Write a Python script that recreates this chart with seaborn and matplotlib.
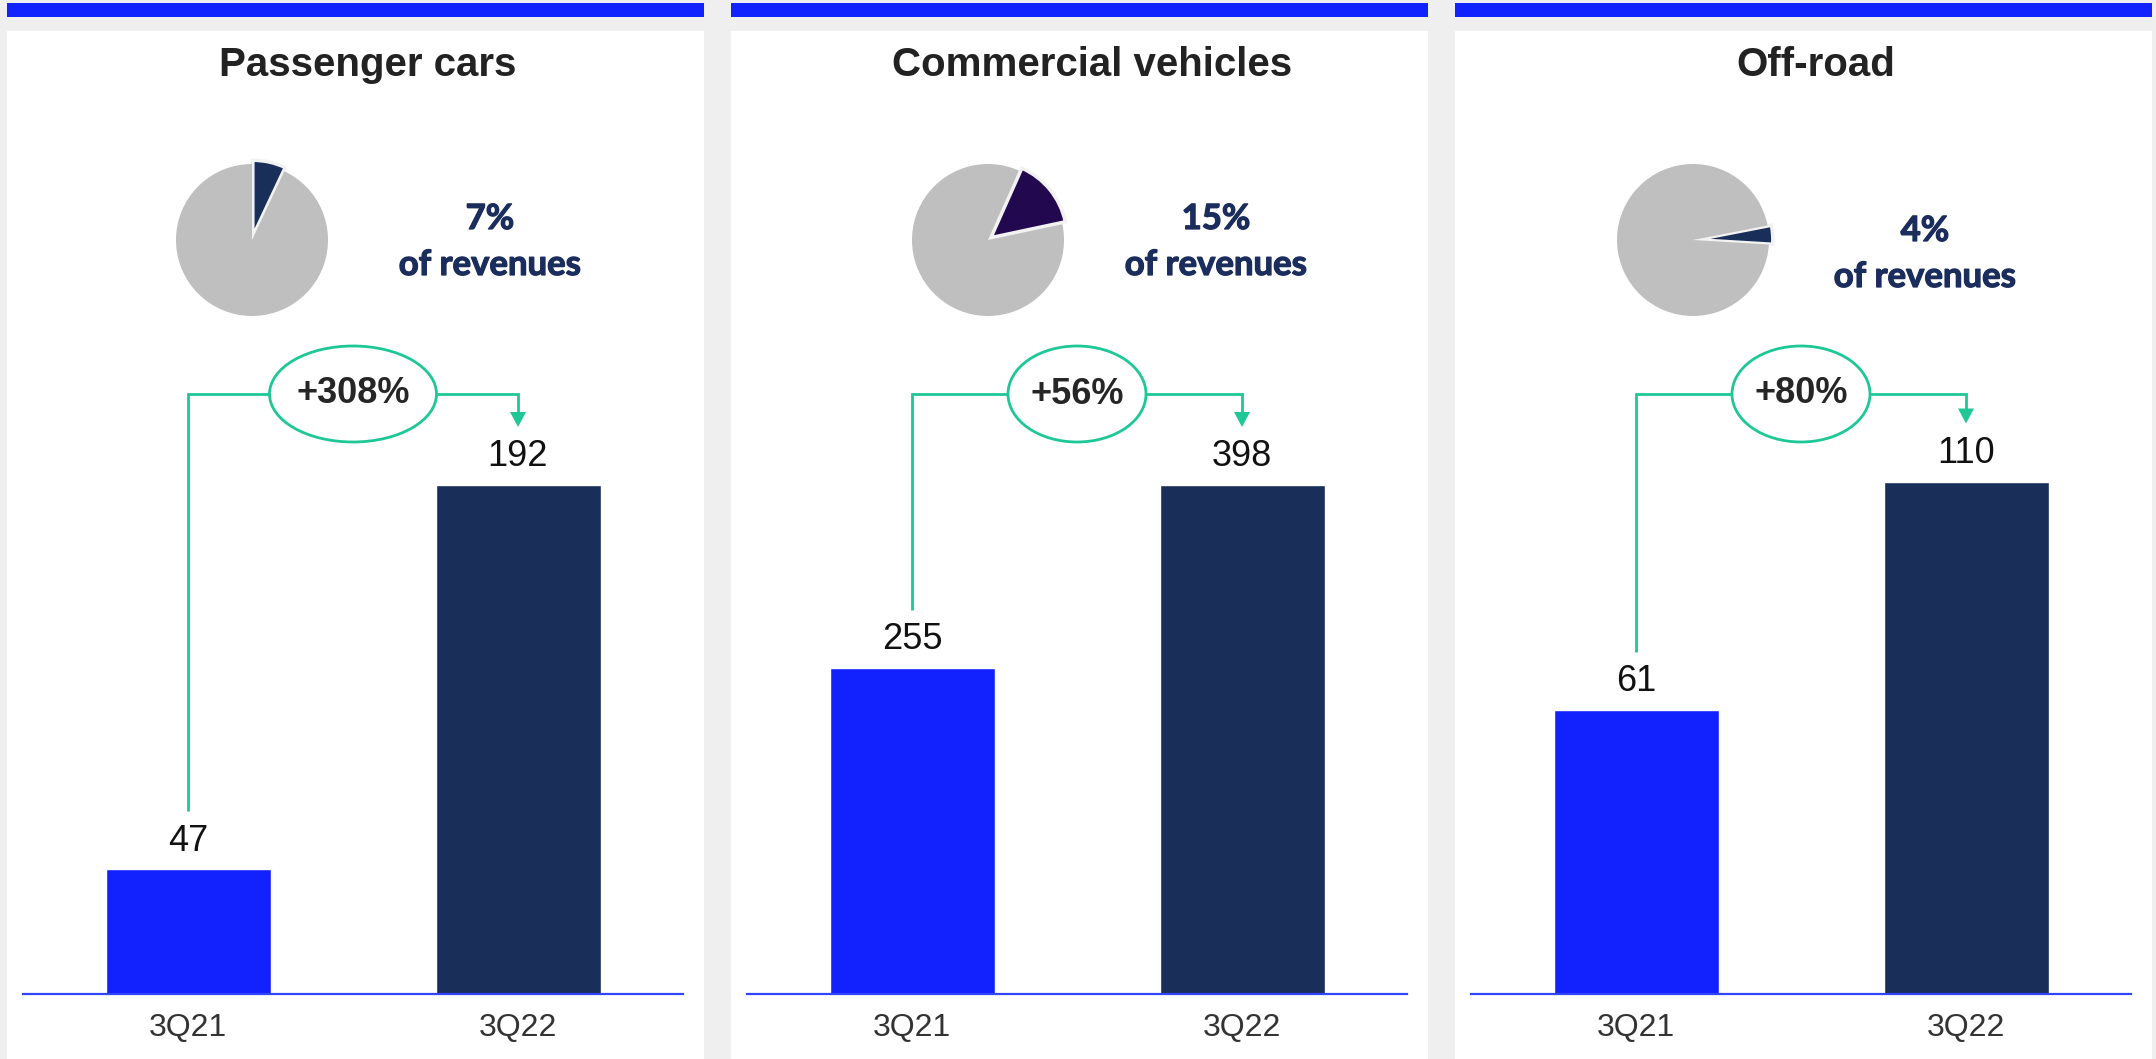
import matplotlib
matplotlib.use("Agg")
import matplotlib.pyplot as plt
import matplotlib.patheffects as pe
from matplotlib.patches import Rectangle, Ellipse, Polygon
import seaborn as sns
import pandas as pd

# ---- data -------------------------------------------------------------
segments = ["Passenger cars", "Commercial vehicles", "Off-road"]
quarters = ["3Q21", "3Q22"]
sales_3q21 = [47, 255, 61]
sales_3q22 = [192, 398, 110]
growth_labels = ["+308%", "+56%", "+80%"]
revenue_share = [7, 15, 4]

# ---- style ------------------------------------------------------------
sns.set_theme(style="white")
plt.rcParams["font.family"] = ["Liberation Sans", "DejaVu Sans"]

W, H = 2156, 1059
BG = "#efefef"
BLUE = "#1122ff"
NAVY = "#1a2e5a"
GREEN = "#1ec896"
GREY = "#bfbfbf"
TXT_NAVY = "#1b2d5c"
slice_colors = [NAVY, "#22094f", NAVY]
start_angles = [90, 66, 11]

fig = plt.figure(figsize=(W / 100, H / 100), dpi=100, facecolor=BG)


def fx(px):
    return px / W


def fy(py):
    return 1 - py / H


panel_step = 724
pie_cx = [252, 988, 1693]
share_cx = [490, 1216, 1925]
share_dy = [0, 0, 12]
bold_fx = [pe.withStroke(linewidth=0.9, foreground=TXT_NAVY)]

for i, seg in enumerate(segments):
    off = panel_step * i
    left = 7 + off
    width = 697

    # panel card and top strip
    fig.add_artist(Rectangle((fx(left), 0), fx(width), fy(31), transform=fig.transFigure,
                             facecolor="white", edgecolor="none", zorder=0))
    fig.add_artist(Rectangle((fx(left), fy(16.7)), fx(width), (16.7 - 3.3) / H,
                             transform=fig.transFigure, facecolor=BLUE, edgecolor="none", zorder=0))

    # title
    fig.text(fx(368 + off), fy(76), seg, ha="center", va="baseline",
             fontsize=29, fontweight="bold", color="#222222")

    # revenue share pie
    cx, cy, r = pie_cx[i], 240, 76
    half = 100
    pax = fig.add_axes([fx(cx - half), fy(cy + half), 2 * half / W, 2 * half / H])
    share = revenue_share[i]
    wedges, _ = pax.pie([share, 100 - share], colors=[slice_colors[i], GREY],
                        startangle=start_angles[i], counterclock=False,
                        explode=[0.05, 0], radius=1.0)
    wedges[0].set_edgecolor("#f2f2f2")
    wedges[0].set_linewidth(2.5)
    wedges[1].set_edgecolor("none")
    lim = half / r
    pax.set_xlim(-lim, lim)
    pax.set_ylim(-lim, lim)
    pax.set_aspect("equal")
    pax.axis("off")

    for text, py in ((f"{share}%", 229), ("of revenues", 275)):
        fig.text(fx(share_cx[i]), fy(py + share_dy[i]), text, ha="center", va="baseline",
                 fontsize=25, fontweight="bold", color=TXT_NAVY,
                 family=["Lato", "DejaVu Sans"], path_effects=bold_fx)

    # bars
    ax_left, ax_right = 23 + off, 683 + off
    base_px, top_px = 994, 330
    ax_h = base_px - top_px
    ax = fig.add_axes([fx(ax_left), fy(base_px), (ax_right - ax_left) / W, ax_h / H])
    ax.set_facecolor("none")
    vals = [sales_3q21[i], sales_3q22[i]]
    df = pd.DataFrame({"quarter": quarters, "value": vals})
    sns.barplot(data=df, x="quarter", y="value", hue="quarter", palette=[BLUE, NAVY],
                width=0.5, legend=False, ax=ax, saturation=1)

    max_px = 509 if i < 2 else 512.5
    top = max(vals) * ax_h / max_px
    ax.set_ylim(0, top)
    ax.set_xlim(-0.5, 1.5)
    s = ax_h / top  # pixels per data unit
    unit = 330.0   # pixels per category step

    for sp in ["top", "left", "right"]:
        ax.spines[sp].set_visible(False)
    ax.spines["bottom"].set_color("#3344ff")
    ax.spines["bottom"].set_linewidth(1.6)
    ax.set_yticks([])
    ax.set_xlabel("")
    ax.set_ylabel("")
    ax.tick_params(axis="x", length=0, pad=14, labelsize=23, labelcolor="#333333")

    # value labels
    for xi, v in enumerate(vals):
        ax.text(xi, v + 28 / s, f"{v}", ha="center", va="center", fontsize=26, color="#111111")

    # growth bracket
    y_line = (base_px - 394) / s
    ell_w = (167 if len(growth_labels[i]) > 4 else 138) / unit
    ell_h = 96 / s
    tip0 = vals[0] + 58 / s
    tip1 = vals[1] + 58 / s
    head_h = 15 / s
    head_w = 8 / unit
    lw = 2.0
    ax.plot([0, 0, 0.5 - ell_w / 2], [tip0, y_line, y_line], color=GREEN, lw=lw,
            clip_on=False, solid_capstyle="butt", solid_joinstyle="miter")
    ax.plot([0.5 + ell_w / 2, 1, 1], [y_line, y_line, tip1 + head_h], color=GREEN, lw=lw,
            clip_on=False, solid_capstyle="butt", solid_joinstyle="miter")
    ax.add_patch(Polygon([(1 - head_w, tip1 + head_h), (1 + head_w, tip1 + head_h), (1, tip1)],
                         closed=True, facecolor=GREEN, edgecolor="none", clip_on=False))
    ax.add_patch(Ellipse((0.5, y_line), ell_w, ell_h, facecolor="white", edgecolor=GREEN,
                         lw=lw, clip_on=False))
    ax.text(0.5, y_line, growth_labels[i], ha="center", va="center", fontsize=26,
            fontweight="bold", color="#262626")

fig.savefig("out.png", dpi=100, facecolor=BG)
